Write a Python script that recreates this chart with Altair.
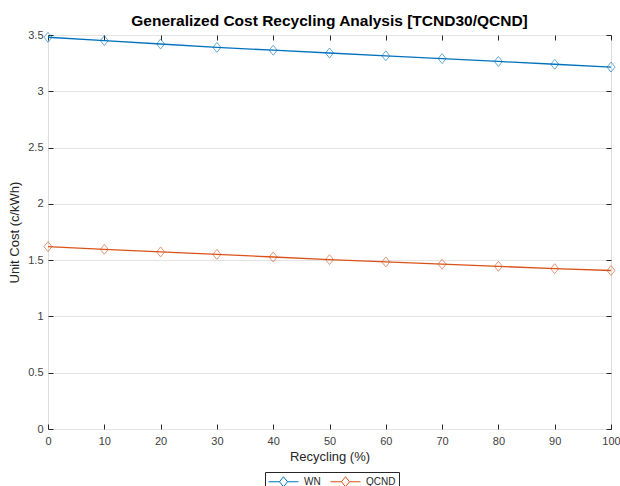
import altair as alt
import pandas as pd

recycling = [0, 10, 20, 30, 40, 50, 60, 70, 80, 90, 100]
wn = [3.48, 3.45, 3.42, 3.39, 3.365, 3.34, 3.315, 3.29, 3.265, 3.24, 3.215]
qcnd = [1.62, 1.596, 1.573, 1.551, 1.528, 1.505, 1.484, 1.464, 1.445, 1.424, 1.408]
series_names = ["WN", "QCND"]
series_colors = ["#0072BD", "#D95319"]
x_ticks = [0, 10, 20, 30, 40, 50, 60, 70, 80, 90, 100]
y_ticks = [0, 0.5, 1, 1.5, 2, 2.5, 3, 3.5]

rows = []
for name, vals in zip(series_names, [wn, qcnd]):
    for r, v in zip(recycling, vals):
        rows.append({"recycling": r, "cost": v, "series": name})
df = pd.DataFrame(rows)

W, H = 563, 394
FONT = "Liberation Sans"

xscale = alt.Scale(domain=[0, 100], nice=False, zero=False)
yscale = alt.Scale(domain=[0, 3.5], nice=False, zero=True)
cscale = alt.Scale(domain=series_names, range=series_colors)

legend_path = "M-2.5,0H-0.67M0.67,0H2.5M-0.67,0L0,-0.83L0.67,0L0,0.83Z"
marker_path = "M0,-1L0.8,0L0,1L-0.8,0Z"

x_main = alt.Axis(orient="bottom", values=x_ticks, ticks=False, domain=False, grid=False,
                  labelPadding=6, labelFontSize=11, labelColor="#404040", labelFont=FONT,
                  labelFlush=False, labelOverlap=False,
                  title="Recycling (%)", titleFontSize=13, titleFontWeight="normal",
                  titleColor="#262626", titleFont=FONT, titlePadding=4)
y_main = alt.Axis(orient="left", values=y_ticks, format="~g", ticks=False, domain=False,
                  grid=True, gridColor="#e3e3e3", gridWidth=1,
                  labelPadding=5, labelFontSize=11, labelColor="#404040", labelFont=FONT,
                  labelFlush=False, labelOverlap=False,
                  title="Unit Cost (c/kWh)", titleFontSize=13, titleFontWeight="normal",
                  titleColor="#262626", titleFont=FONT, titlePadding=6)

def tick_axis(orient, offset, values):
    return alt.Axis(orient=orient, offset=offset, values=values, labels=False, title=None,
                    domain=False, grid=False, ticks=True, tickSize=5, tickColor="#262626",
                    tickWidth=1)

line = alt.Chart(df).mark_line(strokeWidth=1.3).encode(
    x=alt.X("recycling:Q", scale=xscale, axis=x_main),
    y=alt.Y("cost:Q", scale=yscale, axis=y_main),
    color=alt.Color("series:N", scale=cscale,
                    legend=alt.Legend(title=None, orient="none", direction="horizontal",
                                      legendX=217, legendY=437,
                                      symbolType=legend_path, symbolSize=144,
                                      symbolOffset=9,
                                      symbolStrokeWidth=1, symbolFillColor="white",
                                      labelFontSize=10, labelFont=FONT, labelColor="#262626",
                                      labelOffset=14, columnPadding=7,
                                      strokeColor="#262626", padding=3)),
    detail="series:N",
)

points = alt.Chart(df).mark_point(shape=marker_path, filled=False, size=100, strokeWidth=1,
                                  opacity=0.6).encode(
    x=alt.X("recycling:Q", scale=xscale, axis=tick_axis("top", -H, x_ticks)),
    y=alt.Y("cost:Q", scale=yscale, axis=tick_axis("right", -W, y_ticks)),
    color=alt.Color("series:N", scale=cscale, legend=None),
)

ghost = alt.Chart(df).mark_point(opacity=0).encode(
    x=alt.X("recycling:Q", scale=xscale, axis=tick_axis("bottom", -H, x_ticks)),
    y=alt.Y("cost:Q", scale=yscale, axis=tick_axis("left", -W, y_ticks)),
)

chart = alt.layer(line, points, ghost).resolve_axis(
    x="independent", y="independent"
).properties(
    width=W, height=H,
    autosize="none",
    padding={"left": 48, "top": 35, "right": 9, "bottom": 57},
    title=alt.TitleParams("Generalized Cost Recycling Analysis [TCND30/QCND]",
                          font=FONT, fontSize=15.5, fontWeight="bold", color="#000000",
                          anchor="middle", offset=0),
).configure_view(stroke="#262626", strokeWidth=1).configure(background="white")

chart.save("out.html", embed_options={"renderer": "svg", "actions": False})
